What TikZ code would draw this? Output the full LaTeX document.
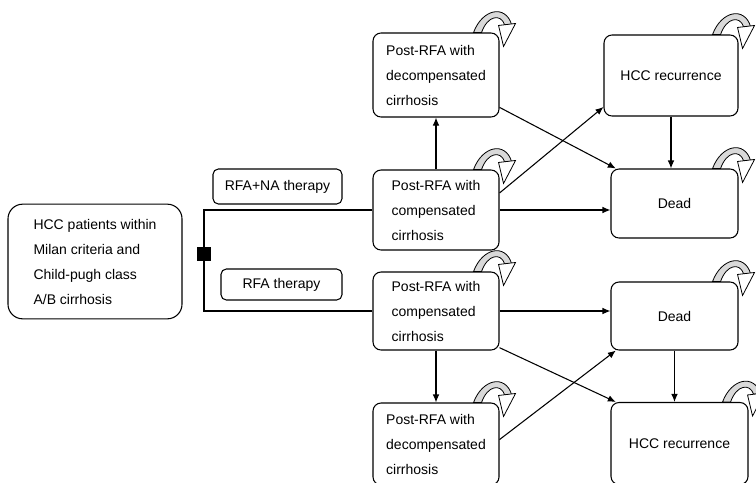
\documentclass[tikz,border=0pt]{standalone}
\usepackage{fontspec}
\setmainfont{Liberation Sans}
\usetikzlibrary{arrows.meta,positioning}
\definecolor{loopgrey}{HTML}{D9D9D9}
\newcommand{\selfloop}[1]{%
  \begin{scope}[shift={(#1.north east)}]
    \draw[line width=0.6pt,fill=loopgrey] (-26,0) .. controls (-17,-24) and (6,-28) .. (12,-8)
      -- (5,-8) .. controls (1,-19) and (-12,-17) .. (-18,0) -- cycle;
    \draw[line width=0.6pt,fill=white] (-1,-7) -- (16,-9) -- (4,14) -- cycle;
  \end{scope}}

\begin{document}
\begin{tikzpicture}[x=0.75pt,y=-0.75pt,
  font=\fontsize{10.5}{18.75}\selectfont,
  box/.style={draw,line width=0.8pt,rounded corners=6pt,align=left,inner sep=2pt},
  state/.style={box,minimum width=94.5pt,minimum height=60pt},
  arr/.style={-{Latex[length=6pt,width=5pt]},line width=0.8pt}
]
\useasboundingbox (0,0) rectangle (756,482);
\node[box,rounded corners=11pt,minimum width=130.5pt,minimum height=86pt] (pat) at (95,261.5)
     {HCC patients within\\Milan criteria and\\Child-pugh class\\A/B cirrhosis};
\node[fill=black,minimum size=10.5pt,inner sep=0pt] (sq) at (204,254) {};
\node[box,rounded corners=4pt,minimum width=96.75pt,minimum height=26.25pt] (na) at (277.5,186.5)
     {RFA+NA therapy};
\node[box,rounded corners=4pt,minimum width=90.75pt,minimum height=23.25pt] (rfa) at (281.5,284.5)
     {RFA therapy};
\node[state,minimum height=63pt] (dectop) at (436,75) {Post-RFA with\\decompensated\\cirrhosis};
\node[state] (ctop) at (436,210) {Post-RFA with\\compensated\\cirrhosis};
\node[state,minimum height=58.5pt] (cbot) at (436,311) {Post-RFA with\\compensated\\cirrhosis};
\node[state,minimum height=61.5pt] (decbot) at (436,444) {Post-RFA with\\decompensated\\cirrhosis};
\node[box,minimum width=100.5pt,minimum height=60.75pt] (htop) at (671,75.5) {HCC recurrence};
\node[box,minimum width=95.25pt,minimum height=51.75pt] (dtop) at (674.5,203.5) {Dead};
\node[box,minimum width=95.25pt,minimum height=51pt] (dbot) at (674.5,316) {Dead};
\node[box,minimum width=102.75pt,minimum height=61.5pt] (hbot) at (679.5,443.5) {HCC recurrence};
\draw[line width=0.8pt] (sq) |- (ctop);
\draw[line width=0.8pt] (sq) |- (cbot);
\draw[arr] (ctop) -- (dectop);
\draw[arr] (ctop.east) -- (ctop.east -| dtop.west);
\draw[arr] (ctop.15) -- (htop.205);
\draw[arr] (dectop.-27) -- ([xshift=4pt]dtop.north west);
\draw[arr] (htop.south) -- (htop.south |- dtop.north);
\draw[arr] (cbot.east) -- (cbot.east -| dbot.west);
\draw[arr] (cbot) -- (decbot);
\draw[arr] (cbot.-30) -- ([xshift=4pt]hbot.north west);
\draw[arr] (decbot.4) -- ([xshift=4pt]dbot.south west);
\draw[arr] (dbot.south) -- (dbot.south |- hbot.north);
\foreach \n in {dectop,ctop,cbot,decbot,htop,dtop,dbot,hbot} \selfloop{\n};
\end{tikzpicture}
\end{document}
